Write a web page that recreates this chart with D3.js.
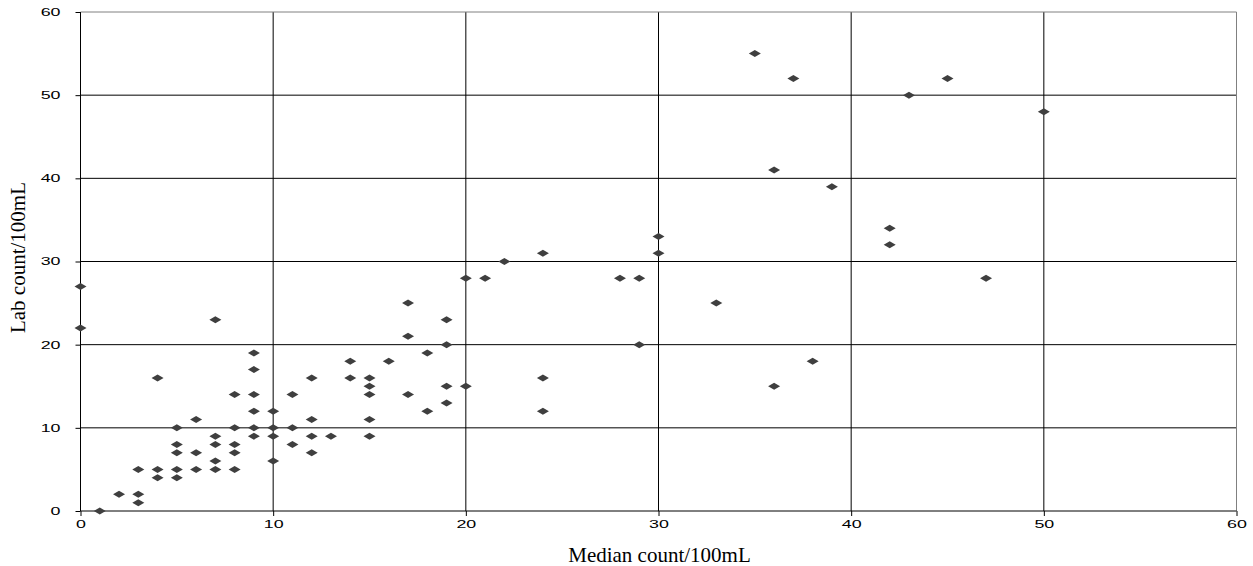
<!DOCTYPE html>
<html>
<head>
<meta charset="utf-8">
<script src="https://cdn.jsdelivr.net/npm/d3@7"></script>
<style>
  html, body { margin: 0; padding: 0; background: #fff; }
  svg { display: block; }
</style>
</head>
<body>
<svg id="chart" width="1253" height="566"></svg>
<script>
// Data: median count vs lab count (per 100mL)
const medianCounts = [0,0,1,2,3,3,3,4,4,4,5,5,5,5,5,6,6,6,7,7,7,7,7,8,8,8,8,8,9,9,9,9,9,9,10,10,10,10,11,11,11,12,12,12,12,13,14,14,15,15,15,15,15,16,17,17,17,18,18,19,19,19,19,20,20,21,22,24,24,24,28,29,29,30,30,33,35,36,36,37,38,39,42,42,43,45,47,50];
const labCounts    = [27,22,0,2,5,2,1,16,5,4,10,8,7,5,4,11,7,5,23,9,8,6,5,14,10,8,7,5,19,17,14,12,10,9,12,10,9,6,14,10,8,16,11,9,7,9,18,16,16,15,14,11,9,18,25,21,14,19,12,23,20,15,13,28,15,28,30,31,16,12,28,28,20,33,31,25,55,41,15,52,18,39,34,32,50,52,28,48];
const xTicks = [0,10,20,30,40,50,60];
const yTicks = [0,10,20,30,40,50,60];
const xTitle = "Median count/100mL";
const yTitle = "Lab count/100mL";

const points = medianCounts.map((m, i) => ({ x: m, y: labCounts[i] }));

const svg = d3.select("#chart");
const x = d3.scaleLinear().domain([0, 60]).range([80.5, 1236.5]);
const y = d3.scaleLinear().domain([0, 60]).range([511, 12]);

// Gridlines
const grid = svg.append("g");
grid.selectAll("line.h").data(yTicks.filter(d => d > 0 && d < 60)).join("line")
  .attr("x1", x(0)).attr("x2", x(60))
  .attr("y1", d => y(d)).attr("y2", d => y(d))
  .attr("stroke", "#000").attr("stroke-width", 1);
grid.selectAll("line.v").data(xTicks.filter(d => d > 0 && d < 60)).join("line")
  .attr("x1", d => x(d)).attr("x2", d => x(d))
  .attr("y1", y(0)).attr("y2", y(60))
  .attr("stroke", "#000").attr("stroke-width", 1);

// Plot border (top/right)
svg.append("line").attr("x1", x(0)).attr("x2", x(60)).attr("y1", y(60)).attr("y2", y(60))
  .attr("stroke", "#808080").attr("stroke-width", 1);
svg.append("line").attr("x1", x(60)).attr("x2", x(60)).attr("y1", y(0)).attr("y2", y(60))
  .attr("stroke", "#808080").attr("stroke-width", 1);

// Axes
const xAxis = d3.axisBottom(x).tickValues(xTicks).tickSize(5).tickPadding(6).tickFormat(d3.format("d"));
const yAxis = d3.axisLeft(y).tickValues(yTicks).tickSize(5).tickPadding(9).tickFormat(d3.format("d"));

const gx = svg.append("g").attr("transform", `translate(0,${y(0)})`).call(xAxis);
const gy = svg.append("g").attr("transform", `translate(${x(0)},0)`).call(yAxis);
[gx, gy].forEach(g => {
  g.select(".domain").attr("stroke", "#000");
  g.selectAll(".tick line").attr("stroke", "#000");
  g.selectAll(".tick text")
    .attr("fill", "#000")
    .style("font-family", "'Liberation Sans', Arial, sans-serif")
    .style("font-size", "10.5px");
});
gx.select(".domain").attr("d", `M${x(0)},0H${x(60)}`);
gy.select(".domain").attr("d", `M0,${y(0)}V${y(60)}`);

// stretch tick labels horizontally
gx.selectAll(".tick text")
  .attr("transform", "scale(1.7,1)").attr("x", 0)
  .attr("dy", "0.71em").attr("y", 10);
gy.selectAll(".tick text")
  .attr("x", -20 / 1.7).attr("transform", "scale(1.7,1)");

// Points (diamonds)
svg.append("g").selectAll("path").data(points).join("path")
  .attr("d", d => {
    const cx = x(d.x), cy = y(d.y);
    return `M${cx - 6},${cy}L${cx},${cy - 3.5}L${cx + 6},${cy}L${cx},${cy + 3.5}Z`;
  })
  .attr("fill", "#3f3f3f");

// Titles
svg.append("text")
  .attr("x", (x(0) + x(60)) / 2 + 1).attr("y", 562)
  .attr("text-anchor", "middle")
  .style("font-family", "'Liberation Serif', 'Times New Roman', serif")
  .style("font-size", "21px")
  .attr("fill", "#000")
  .text(xTitle);

svg.append("text")
  .attr("transform", `translate(25,${(y(0) + y(60)) / 2 - 4}) rotate(-90)`)
  .attr("text-anchor", "middle")
  .style("font-family", "'Liberation Serif', 'Times New Roman', serif")
  .style("font-size", "21px")
  .attr("fill", "#000")
  .text(yTitle);
</script>
</body>
</html>
